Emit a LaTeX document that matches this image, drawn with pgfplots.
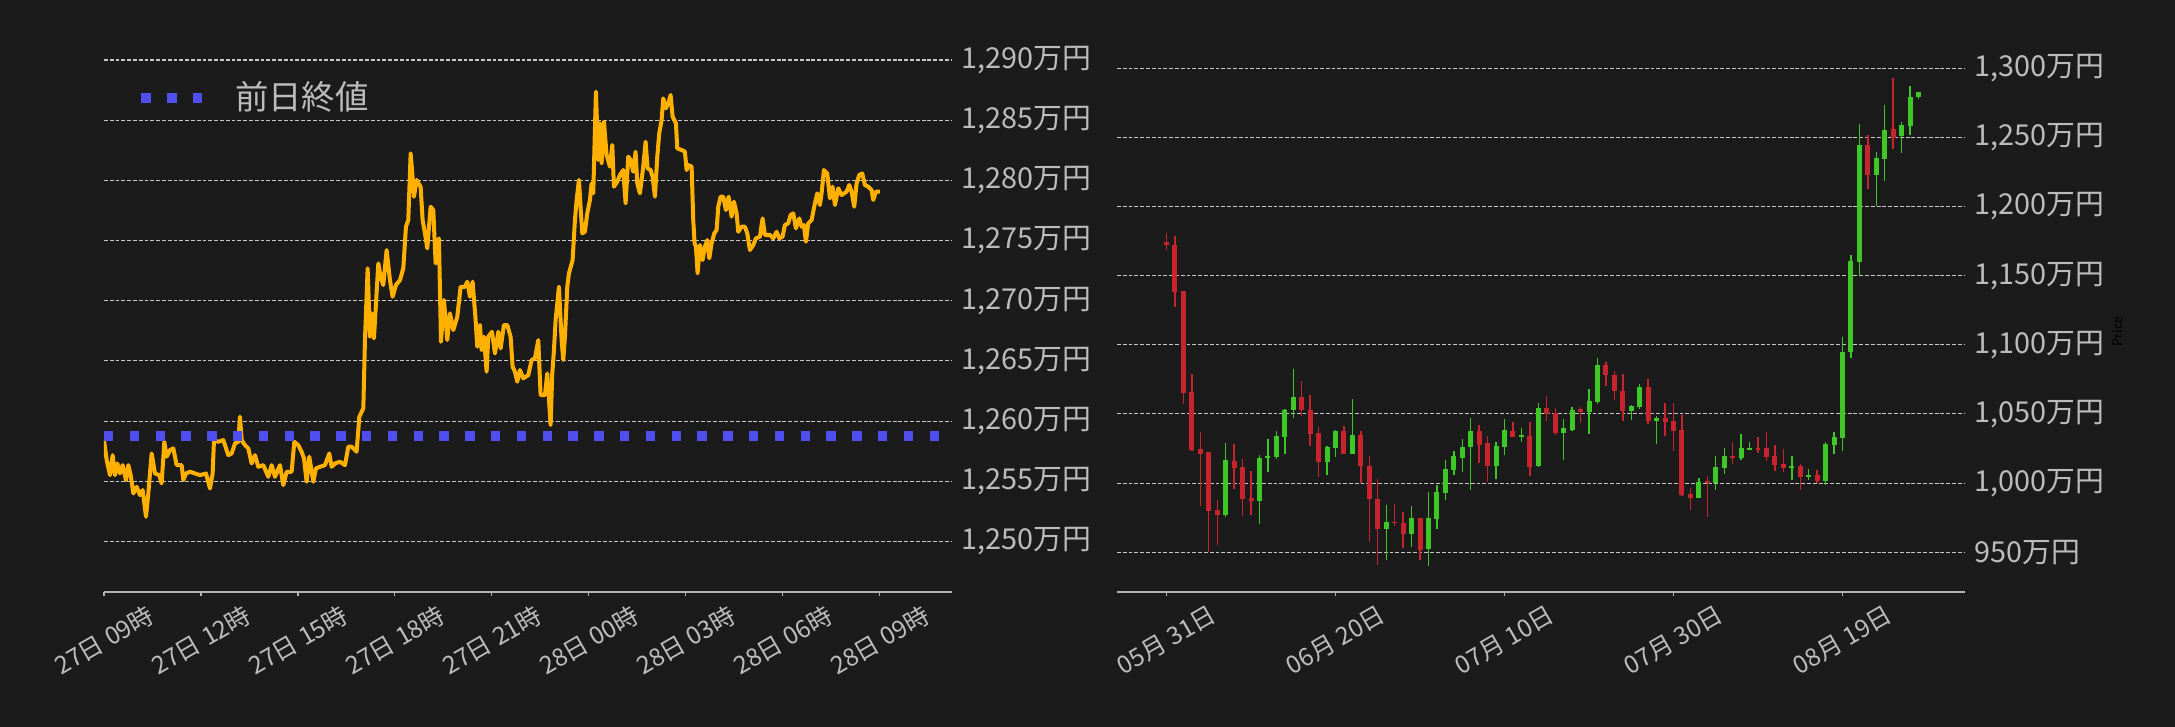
\documentclass[border=0pt]{standalone}
\usepackage{fontspec}
\setmainfont{Noto Sans CJK JP}
\usepackage{pgfplots}
\pgfplotsset{compat=1.18}
\usepackage{pgfplotstable}

\definecolor{bg}{RGB}{27,27,27}
\definecolor{txt}{RGB}{188,188,188}
\definecolor{gridc}{RGB}{200,200,200}
\definecolor{spine}{RGB}{180,180,180}
\definecolor{linec}{RGB}{255,176,0}
\definecolor{prevc}{RGB}{79,79,240}
\definecolor{upc}{RGB}{62,200,40}
\definecolor{dnc}{RGB}{200,36,46}

% intraday price, hours after 27日 09時, 万円
\pgfplotstableread{
t v
0.000 1258.42
0.083 1256.76
0.186 1255.51
0.268 1257.17
0.340 1255.51
0.412 1256.48
0.495 1255.65
0.577 1256.34
0.680 1255.10
0.753 1256.34
0.825 1255.51
0.907 1253.99
1.010 1254.54
1.113 1253.85
1.196 1254.27
1.299 1252.05
1.371 1253.99
1.474 1257.31
1.577 1255.65
1.711 1255.51
1.783 1254.82
1.866 1258.28
1.938 1257.04
2.041 1257.59
2.144 1257.73
2.247 1256.34
2.402 1256.34
2.454 1255.10
2.536 1255.65
2.660 1255.79
2.814 1255.65
2.969 1255.51
3.155 1255.65
3.278 1254.40
3.361 1255.65
3.402 1258.42
3.536 1258.28
3.691 1258.42
3.845 1257.17
3.948 1257.31
4.051 1258.14
4.155 1258.28
4.206 1260.36
4.258 1258.42
4.361 1258.00
4.464 1257.73
4.567 1256.48
4.670 1257.17
4.773 1256.20
4.928 1256.34
5.082 1255.37
5.186 1256.34
5.289 1255.37
5.443 1256.34
5.546 1254.68
5.649 1255.79
5.804 1255.79
5.887 1258.28
6.010 1258.00
6.113 1257.45
6.186 1256.90
6.268 1254.96
6.350 1257.04
6.474 1254.96
6.557 1256.07
6.680 1256.20
6.835 1256.34
6.969 1257.31
7.041 1256.20
7.144 1256.48
7.299 1256.62
7.454 1256.34
7.557 1257.87
7.660 1257.87
7.814 1257.45
7.897 1260.36
8.021 1261.05
8.072 1266.73
8.155 1272.69
8.227 1267.01
8.278 1268.95
8.350 1266.87
8.485 1273.10
8.557 1271.99
8.639 1271.30
8.742 1274.21
8.845 1271.72
8.928 1270.33
9.031 1271.30
9.155 1271.72
9.258 1272.69
9.340 1276.15
9.412 1276.70
9.485 1282.24
9.536 1280.58
9.588 1278.64
9.670 1280.03
9.794 1279.47
9.856 1276.70
9.928 1275.60
10.000 1274.35
10.103 1277.81
10.186 1277.53
10.258 1273.10
10.361 1275.18
10.423 1266.59
10.515 1270.06
10.618 1266.73
10.701 1268.95
10.804 1267.56
10.928 1268.67
11.031 1271.16
11.165 1271.16
11.237 1271.58
11.320 1270.33
11.402 1271.58
11.495 1268.39
11.546 1266.18
11.629 1267.98
11.680 1265.90
11.752 1267.01
11.835 1264.10
11.887 1267.01
12.000 1267.42
12.093 1265.62
12.196 1267.42
12.268 1266.04
12.371 1267.98
12.474 1267.98
12.577 1267.01
12.639 1264.52
12.711 1264.10
12.783 1263.27
12.866 1264.24
12.969 1263.55
13.124 1263.82
13.227 1265.07
13.330 1265.21
13.433 1266.73
13.505 1262.16
13.639 1262.16
13.711 1263.96
13.814 1259.67
13.866 1263.96
13.918 1265.90
13.969 1268.39
14.072 1271.16
14.155 1266.73
14.206 1265.07
14.258 1267.01
14.330 1271.16
14.381 1272.27
14.495 1273.38
14.567 1276.70
14.619 1278.37
14.691 1280.03
14.753 1277.26
14.794 1275.60
14.876 1275.73
14.948 1277.26
15.031 1278.37
15.082 1279.75
15.134 1278.92
15.216 1287.37
15.289 1281.69
15.340 1284.74
15.392 1281.41
15.464 1284.88
15.546 1282.11
15.649 1281.14
15.722 1282.94
15.773 1279.47
15.876 1279.89
15.959 1280.44
16.062 1280.86
16.134 1278.09
16.216 1281.97
16.289 1281.69
16.371 1280.72
16.443 1282.38
16.495 1279.75
16.577 1278.92
16.680 1281.14
16.753 1283.21
16.814 1281.00
16.907 1280.86
16.969 1280.30
17.041 1278.64
17.114 1281.97
17.175 1283.91
17.248 1285.01
17.299 1286.81
17.382 1285.98
17.454 1286.40
17.526 1287.09
17.588 1285.29
17.691 1284.74
17.732 1282.66
17.866 1282.52
17.969 1282.38
18.021 1280.86
18.073 1281.27
18.176 1281.14
18.227 1276.70
18.268 1274.76
18.310 1274.49
18.361 1272.27
18.433 1274.63
18.516 1273.38
18.588 1274.49
18.660 1275.04
18.722 1273.52
18.794 1274.76
18.877 1275.60
18.949 1275.87
19.000 1277.81
19.073 1278.64
19.155 1278.64
19.237 1277.53
19.320 1278.64
19.413 1276.98
19.485 1278.23
19.567 1277.26
19.619 1275.73
19.722 1276.15
19.825 1276.15
19.897 1275.60
19.979 1274.21
20.083 1274.63
20.165 1275.18
20.289 1275.32
20.371 1276.84
20.443 1275.46
20.598 1275.46
20.701 1275.18
20.804 1275.73
20.887 1275.18
20.990 1275.32
21.062 1276.29
21.165 1276.43
21.237 1277.12
21.320 1277.26
21.402 1276.01
21.505 1276.84
21.578 1276.15
21.650 1276.29
21.711 1274.90
21.784 1276.43
21.887 1276.70
21.990 1278.09
22.062 1278.92
22.144 1277.95
22.196 1278.92
22.268 1280.86
22.371 1280.58
22.454 1278.50
22.536 1279.47
22.609 1277.95
22.712 1279.34
22.815 1278.78
22.970 1279.06
23.052 1279.61
23.124 1279.06
23.206 1277.81
23.279 1279.75
23.361 1280.44
23.454 1280.58
23.536 1279.61
23.640 1279.47
23.743 1279.20
23.794 1278.37
23.876 1279.06
24.000 1279.06
}\intraday

% daily candles, day 0 = 05月31日, 万円
\pgfplotstableread{
d O H L C
7 977.1 1029.1 975.2 1016.4
11 987.2 1020.0 970.1 1018.3
12 1017.9 1032.0 1008.3 1019.3
13 1018.8 1037.8 1017.4 1034.2
14 1033.2 1053.8 1021.2 1052.9
15 1052.6 1082.4 1047.1 1062.5
19 1015.2 1027.0 1006.1 1026.3
20 1025.3 1038.5 1019.1 1037.8
22 1021.0 1060.8 1021.0 1034.9
26 967.0 984.3 944.7 971.6
29 963.4 983.1 953.6 974.7
31 952.6 993.9 939.9 974.7
32 974.2 998.9 967.0 993.4
33 992.9 1016.4 987.4 1009.9
34 1009.5 1023.4 1005.9 1019.3
35 1018.1 1032.0 1008.3 1025.8
36 1026.0 1047.1 995.3 1037.3
39 1012.4 1029.9 1003.2 1026.5
40 1026.0 1046.6 1020.3 1038.7
42 1033.2 1039.5 1029.6 1034.7
44 1012.4 1058.0 1011.7 1054.0
47 1036.0 1046.0 1016.8 1039.6
48 1038.4 1055.2 1037.6 1053.2
50 1051.1 1068.1 1035.5 1059.0
51 1058.3 1090.7 1057.1 1085.6
55 1052.0 1056.4 1045.6 1055.4
56 1054.7 1072.0 1053.5 1069.8
58 1044.8 1048.7 1028.3 1046.8
63 989.4 1004.0 989.4 1000.7
65 1000.2 1019.4 995.1 1011.5
66 1011.0 1025.2 1006.7 1019.4
68 1018.2 1035.2 1016.8 1025.2
69 1024.4 1029.5 1023.9 1025.4
74 1011.0 1019.4 1002.3 1012.4
76 1004.5 1010.0 1002.3 1005.7
78 1001.6 1030.0 998.3 1028.0
79 1027.6 1036.7 1021.1 1033.1
80 1032.6 1105.6 1023.2 1095.0
81 1094.5 1165.3 1090.4 1160.5
82 1160.1 1259.7 1150.4 1244.8
84 1222.7 1239.5 1200.4 1235.4
85 1234.7 1273.4 1218.4 1255.6
87 1251.3 1261.1 1238.5 1259.2
88 1258.0 1287.0 1251.5 1279.4
89 1278.9 1283.0 1277.7 1283.0
}\upT

\pgfplotstableread{
d O H L C
0 1174.5 1180.9 1168.5 1172.1
1 1172.5 1178.8 1127.5 1138.2
2 1138.7 1138.7 1057.4 1065.3
3 1066.1 1078.8 1023.0 1023.6
4 1024.3 1036.6 983.1 1021.0
5 1022.2 1022.2 950.0 980.0
6 980.5 987.4 955.5 977.1
8 1015.7 1027.9 996.0 1010.9
9 1011.4 1017.6 975.9 988.6
10 989.1 1009.0 976.6 987.2
16 1062.5 1074.0 1048.6 1052.6
17 1052.9 1063.7 1027.0 1035.4
18 1036.3 1040.6 1004.7 1015.2
21 1037.8 1041.4 1021.0 1021.0
23 1034.9 1037.8 1000.4 1012.4
24 1012.6 1019.8 957.2 988.6
25 988.8 1003.2 941.1 967.0
27 971.8 985.0 968.7 971.2
28 970.9 978.8 953.1 963.4
30 974.7 974.7 944.7 951.9
37 1037.3 1042.3 1014.7 1027.5
38 1028.7 1034.2 1001.1 1012.4
41 1038.0 1044.2 1033.2 1033.2
43 1033.7 1044.2 1005.2 1011.6
45 1054.0 1063.1 1044.8 1049.9
46 1050.4 1054.4 1034.8 1036.0
49 1053.5 1054.7 1043.4 1051.1
52 1085.6 1087.6 1070.0 1078.0
53 1078.4 1081.1 1060.0 1066.4
54 1066.9 1079.2 1044.8 1052.0
57 1069.8 1075.6 1042.7 1044.8
59 1046.8 1058.0 1034.0 1044.1
60 1044.6 1058.0 1023.2 1037.6
61 1038.1 1049.2 990.8 991.5
62 992.0 996.3 980.7 989.4
64 1001.2 1004.8 975.2 1000.2
67 1019.6 1030.0 1014.1 1018.2
70 1025.4 1033.6 1021.6 1024.4
71 1025.2 1036.7 1016.0 1018.9
72 1019.4 1027.3 1008.4 1012.9
73 1013.6 1024.4 1008.1 1010.8
75 1012.2 1013.6 995.1 1004.5
77 1005.7 1009.1 999.7 1001.6
83 1244.8 1251.8 1212.6 1222.7
86 1256.3 1292.8 1241.7 1249.6
}\dnT

\pgfplotsset{
  darkax/.style={
    scale only axis, width=8.48cm, height=5.32cm,
    axis x line*=bottom, axis y line*=right,
    x axis line style={draw=spine, line width=0.57pt, -},
    y axis line style={draw=none},
    ymajorgrids,
    grid style={gridc, line width=0.3pt, dash pattern=on 1.1pt off 0.55pt},
    tick align=outside, major tick length=1.2pt,
    xtick style={draw=spine, line width=0.3pt},
    ytick style={draw=none},
    yticklabel pos=right,
    tick label style={text=txt},
    yticklabel style={font=\fontsize{8.2}{9}\selectfont, xshift=-0.07cm},
    xticklabel style={font=\fontsize{7}{8}\selectfont, yshift=-0.44cm, rotate=30, anchor=center},
    /pgf/number format/assume math mode=true,
    /pgf/number format/1000 sep={,},
    yticklabel={\pgfmathprintnumber{\tick}万円},
  },
  wick/.style={draw=none, mark=none, forget plot,
    error bars/.cd, y dir=both, y explicit, error mark=none,
    error bar style={draw=#1, line width=0.4pt}},
  body/.style={draw=none, mark=none, forget plot,
    error bars/.cd, y dir=both, y explicit, error mark=none,
    error bar style={draw=#1, line width=1.42pt, line cap=butt}},
}

\begin{document}
\begin{tikzpicture}
\fill[bg] (0,0) rectangle (21.75cm,7.27cm);
\useasboundingbox (0,0) rectangle (21.75cm,7.27cm);

\begin{axis}[darkax,
  at={(1.04cm,1.35cm)}, anchor=south west,
  xmin=0, xmax=26.23, ymin=1245.8, ymax=1290.0,
  ytick={1250,1255,...,1290},
  xtick={0,3,...,24},
  xticklabels={27日 09時,27日 12時,27日 15時,27日 18時,27日 21時,28日 00時,28日 03時,28日 06時,28日 09時},
  legend style={at={(rel axis cs:0,1)}, anchor=west, xshift=0.32cm, yshift=-0.38cm,
    draw=none, fill=none, inner sep=0pt, text=txt, font=\fontsize{9.5}{11}\selectfont,
    nodes={inner sep=0pt},
    /tikz/every odd column/.append style={column sep=0.28cm}},
  legend image code/.code={\draw[#1] (0cm,0cm) -- (0.61cm,0cm);},
]
\addplot[linec, line width=1.14pt, line join=round, forget plot] table[x=t, y=v] {\intraday};
\addplot[prevc, line width=2.7pt, dash pattern=on 2.7pt off 4.64pt] coordinates {(0,1258.77) (26.23,1258.77)};
\addlegendentry{前日終値}
\end{axis}

\begin{axis}[darkax,
  at={(11.17cm,1.35cm)}, anchor=south west,
  xmin=-5.86, xmax=94.5, ymin=921.2, ymax=1306.0,
  ytick={950,1000,...,1300},
  xtick={0,20,40,60,80},
  xticklabels={05月 31日,06月 20日,07月 10日,07月 30日,08月 19日},
  ylabel={Price},
  ylabel style={at={(axis description cs:1.18,0.49)}, anchor=center,
    font=\fontsize{3.7}{4}\selectfont, text=black},
]
\addplot[wick=dnc] table[x=d, y expr={(\thisrow{H}+\thisrow{L})/2}, y error expr={(\thisrow{H}-\thisrow{L})/2}] {\dnT};
\addplot[body=dnc] table[x=d, y expr={(\thisrow{O}+\thisrow{C})/2}, y error expr={max(abs(\thisrow{O}-\thisrow{C})/2,0.4)}] {\dnT};
\addplot[wick=upc] table[x=d, y expr={(\thisrow{H}+\thisrow{L})/2}, y error expr={(\thisrow{H}-\thisrow{L})/2}] {\upT};
\addplot[body=upc] table[x=d, y expr={(\thisrow{O}+\thisrow{C})/2}, y error expr={max(abs(\thisrow{O}-\thisrow{C})/2,0.4)}] {\upT};
\end{axis}
\end{tikzpicture}
\end{document}
